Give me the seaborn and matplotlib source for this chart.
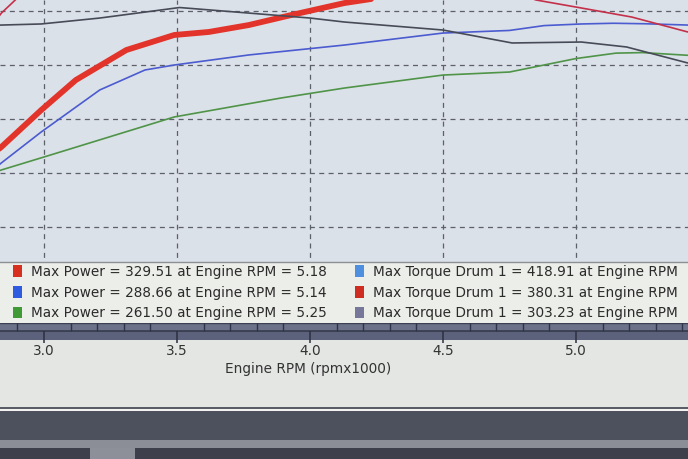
import numpy as np
import pandas as pd
import matplotlib
matplotlib.use("Agg")
import matplotlib.pyplot as plt
from matplotlib.patches import Patch, Rectangle
from matplotlib.ticker import MultipleLocator
import seaborn as sns

# Engine RPM (x1000) and values
power_red_rpm = [2.80, 2.84, 2.99, 3.12, 3.31, 3.49, 3.62, 3.77, 3.93, 4.13, 4.28, 4.40, 4.80, 5.18, 5.40]
power_red_val = [166.0, 174.1, 208.3, 236.1, 263.9, 277.8, 280.6, 287.0, 296.3, 307.4, 313.0, 318.0, 326.0, 329.51, 327.0]

power_blue_rpm = [2.80, 2.84, 2.99, 3.21, 3.38, 3.49, 3.77, 4.13, 4.50, 4.75, 4.88, 5.02, 5.14, 5.26, 5.42]
power_blue_val = [151.0, 159.3, 188.0, 226.9, 245.4, 250.0, 259.3, 268.5, 279.6, 282.0, 286.5, 288.0, 288.66, 288.2, 287.0]

power_green_rpm = [2.80, 2.84, 3.00, 3.49, 3.89, 4.13, 4.50, 4.75, 5.00, 5.15, 5.25, 5.42]
power_green_val = [149.0, 152.8, 164.8, 201.9, 219.4, 228.7, 240.7, 243.5, 256.0, 261.0, 261.5, 259.0]

torque_lblue_rpm = [2.80, 3.50, 4.00, 4.50, 5.00, 5.40]
torque_lblue_val = [350.0, 405.0, 418.91, 412.0, 390.0, 370.0]

torque_red_rpm = [2.80, 2.84, 2.90, 3.20, 3.80, 4.50, 4.85, 5.02, 5.21, 5.42]
torque_red_val = [285.0, 298.0, 312.0, 350.0, 380.31, 340.0, 310.2, 302.8, 294.4, 280.6]

torque_gray_rpm = [2.80, 2.84, 2.99, 3.21, 3.51, 3.77, 4.00, 4.13, 4.50, 4.76, 5.02, 5.19, 5.42]
torque_gray_val = [286.5, 287.0, 288.0, 293.5, 303.23, 298.1, 293.5, 289.8, 282.4, 270.4, 271.3, 266.7, 251.9]

legend_left = [
    "Max Power = 329.51 at Engine RPM = 5.18",
    "Max Power = 288.66 at Engine RPM = 5.14",
    "Max Power = 261.50 at Engine RPM = 5.25",
]
legend_right = [
    "Max Torque Drum 1 = 418.91 at Engine RPM",
    "Max Torque Drum 1 = 380.31 at Engine RPM",
    "Max Torque Drum 1 = 303.23 at Engine RPM",
]
legend_left_colors = ["#d8301f", "#2f5be0", "#3f9a36"]
legend_right_colors = ["#4f8fe0", "#cf2c22", "#77779a"]

x_ticks = [3.0, 3.5, 4.0, 4.5, 5.0]
y_grid = [50, 100, 150, 200, 250, 300]

sns.set_style("white")
plt.rcParams["font.family"] = ["DejaVu Sans"]

W, H = 688, 459
fig = plt.figure(figsize=(6.88, 4.59), dpi=100, facecolor="#e3e6e3")

# main plot area
ax = fig.add_axes([0, 1 - 323 / H, 1, 323 / H])
ax.set_facecolor("#dbe1e8")

series = [
    (power_red_rpm, power_red_val, "#e2342a", 4.2),
    (power_blue_rpm, power_blue_val, "#4b5bd0", 1.2),
    (power_green_rpm, power_green_val, "#4f9448", 1.2),
    (torque_lblue_rpm, torque_lblue_val, "#5a96e0", 1.2),
    (torque_red_rpm, torque_red_val, "#c4304a", 1.2),
    (torque_gray_rpm, torque_gray_val, "#474b58", 1.2),
]
for rpm, val, col, lw in series:
    df = pd.DataFrame({"rpm": rpm, "val": val})
    sns.lineplot(data=df, x="rpm", y="val", ax=ax, color=col, lw=lw,
                 estimator=None, sort=False, zorder=3)

ax.set_xlim(2.835, 5.421)
ax.set_ylim(11.1, 310.2)
ax.set_xticks(x_ticks)
ax.set_yticks(y_grid)
ax.grid(True, color="#5c606b", lw=0.9, linestyle=(0, (4, 3.5)))
ax.tick_params(length=0, labelbottom=False, labelleft=False)
ax.set_xlabel("")
ax.set_ylabel("")
for s in ax.spines.values():
    s.set_visible(False)

# legend panel
lax = fig.add_axes([0, 1 - 323 / H, 1, 61 / H], zorder=5)
lax.set_facecolor("#eceee9")
lax.set_xticks([])
lax.set_yticks([])
for s in ["left", "right", "bottom"]:
    lax.spines[s].set_visible(False)
lax.spines["top"].set_color("#8c8f94")
lax.spines["top"].set_linewidth(1.0)

legends = []
for labels, cols, x0 in [(legend_left, legend_left_colors, 13),
                         (legend_right, legend_right_colors, 355)]:
    handles = [Patch(facecolor=c, edgecolor="none") for c in cols]
    leg = lax.legend(handles, labels, loc="upper left",
                     bbox_to_anchor=(x0 / W, 0.955), frameon=False,
                     borderpad=0, borderaxespad=0, handlelength=0.68,
                     handleheight=0.9, handletextpad=0.62, labelspacing=0.5,
                     prop={"size": 9.8}, labelcolor="#2b2b2b")
    legends.append(leg)
lax.add_artist(legends[0])

# x-axis strip
bax = fig.add_axes([0, 1 - 343 / H, 1, 20 / H], zorder=4)
bax.set_axisbelow(False)
bax.set_xlim(2.835, 5.421)
bax.set_ylim(20, 0)
bax.axhspan(0, 8, color="#6c7289", lw=0, zorder=0)
bax.axhspan(8, 17, color="#5c627b", lw=0, zorder=0)
bax.axhspan(17, 20, color="#e3e6e3", lw=0, zorder=0)
bax.axhline(8, color="#363a4c", lw=1.2, zorder=1)
bax.axhline(0.3, color="#3c4052", lw=1.0, zorder=1)
bax.set_yticks([])
bax.xaxis.set_major_locator(MultipleLocator(0.5))
bax.xaxis.set_minor_locator(MultipleLocator(0.1))
bax.tick_params(axis="x", which="major", direction="in", bottom=True, top=False,
                length=8.6, width=1.1, color="#2c3040", pad=1,
                labelsize=9.8, labelcolor="#333333")
bax.tick_params(axis="x", which="minor", direction="in", bottom=False, top=True,
                length=5.8, width=1.0, color="#30344a")
for s in bax.spines.values():
    s.set_visible(False)

fig.text(308 / W, 1 - 369 / H, "Engine RPM (rpmx1000)", ha="center", va="center",
         fontsize=9.8, color="#333333")

# window chrome below the chart
def band(y0, y1, col, x0=0, x1=W, z=6):
    fig.add_artist(Rectangle((x0 / W, 1 - y1 / H), (x1 - x0) / W, (y1 - y0) / H,
                             transform=fig.transFigure, color=col, lw=0, zorder=z))

band(407, 409, "#5a5d66")
band(409, 411, "#f2f3f2")
band(411, 440, "#4d505d")
band(440, 448, "#8b8e97")
band(448, 459, "#3d3f4a")
band(448, 459, "#8d9099", 90, 135, z=7)

fig.savefig("out.png", dpi=100, facecolor=fig.get_facecolor())
